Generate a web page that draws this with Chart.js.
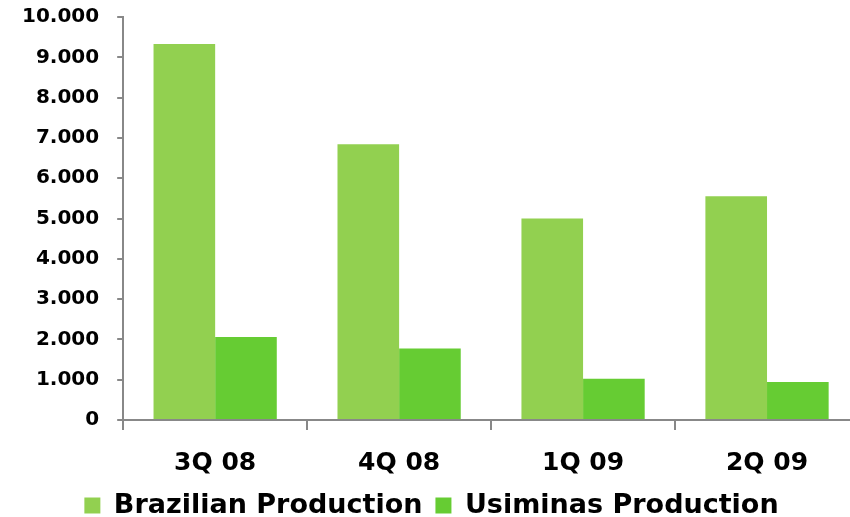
<!DOCTYPE html>
<html>
<head>
<meta charset="utf-8">
<script src="https://cdn.jsdelivr.net/npm/chart.js@4/dist/chart.umd.min.js"></script>
<style>
  html, body { margin: 0; padding: 0; background: #fff; overflow: hidden; }
  body { width: 850px; height: 517px; position: relative; }
  /* canvas slightly larger than the window, the original plot is cut at the right edge */
  #wrap { position: absolute; left: 4px; top: -13px; width: 855px; height: 542px; }
</style>
</head>
<body>
<div id="wrap"><canvas id="prodChart"></canvas></div>
<script>
// Quarters and production values
const quarters = ['3Q 08', '4Q 08', '1Q 09', '2Q 09'];
const brazilian = [9330, 6840, 5000, 5550];
const usiminas = [2060, 1775, 1025, 945];

Chart.defaults.font.family = "'DejaVu Sans', Verdana, sans-serif";
Chart.defaults.font.weight = 'bold';
Chart.defaults.color = '#000';

const data = {
  labels: quarters,
  datasets: [
    {
      label: 'Brazilian Production',
      backgroundColor: '#92D050',
      data: brazilian
    },
    {
      label: 'Usiminas Production',
      backgroundColor: '#66CC33',
      data: usiminas
    }
  ]
};

const config = {
  type: 'bar',
  data: data,
  options: {
    responsive: true,
    maintainAspectRatio: false,
    animation: false,
    layout: { padding: 0 },
    datasets: {
      bar: { categoryPercentage: 0.67, barPercentage: 1 }
    },
    plugins: {
      legend: {
        position: 'bottom',
        labels: {
          boxWidth: 16,
          boxHeight: 16,
          padding: 13,
          font: { size: 27, weight: 'bold' }
        }
      },
      tooltip: { enabled: false }
    },
    scales: {
      y: {
        min: 0,
        max: 10000,
        ticks: {
          stepSize: 1000,
          padding: 18,
          font: { size: 20, weight: 'bold' },
          // thousands shown with a dot, as in the original
          callback: v => v.toLocaleString('de-DE')
        },
        grid: { drawOnChartArea: false, tickLength: 6, color: '#888', lineWidth: 2 },
        border: { color: '#888', width: 2 }
      },
      x: {
        ticks: {
          padding: 1,
          font: { size: 25, weight: 'bold' }
        },
        // long tick space but only the first 9px of the tick mark is drawn
        grid: { drawOnChartArea: false, tickLength: 27, tickBorderDash: [9, 60], color: '#888', lineWidth: 2 },
        border: { color: '#888', width: 2 }
      }
    }
  }
};

const myChart = new Chart(document.getElementById('prodChart'), config);
</script>
</body>
</html>
